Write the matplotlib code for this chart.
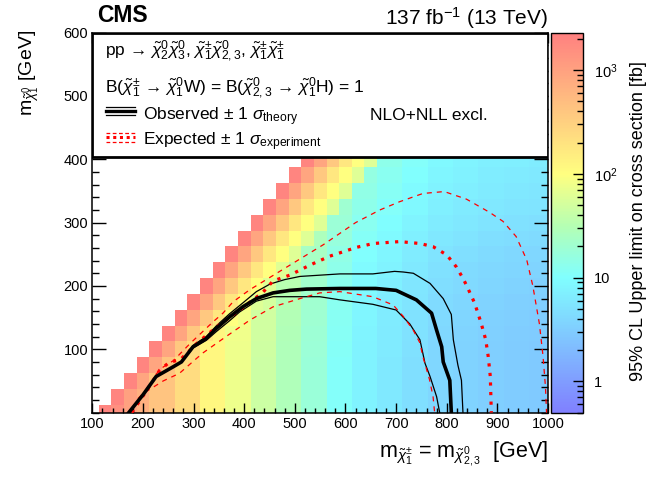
import numpy as np
import matplotlib
matplotlib.use('Agg')
import matplotlib.pyplot as plt
import matplotlib.patches as patches
from matplotlib.colors import LinearSegmentedColormap, LogNorm
from matplotlib.ticker import MultipleLocator, FixedLocator, LogLocator, NullFormatter

plt.rcParams['font.family'] = ['Liberation Sans', 'DejaVu Sans']
plt.rcParams['mathtext.fontset'] = 'custom'
plt.rcParams['mathtext.rm'] = 'Liberation Sans'
plt.rcParams['mathtext.it'] = 'Liberation Sans:italic'
plt.rcParams['mathtext.bf'] = 'Liberation Sans:bold'

# =========================
# Data
# =========================
# bin centres (GeV)
m_chargino = np.arange(125, 1001, 25)
m_lsp = np.arange(0, 401, 25)

# upper limit (fb) in the lowest LSP row, per chargino bin
limit_row0 = [2000, 1500, 1000, 700, 420, 420, 230, 230, 120, 120, 75, 75,
              45, 45, 28, 28, 18, 18, 11, 11, 7.5, 7.5, 6.0, 6.0,
              4.8, 4.8, 3.9, 3.9, 3.5, 3.5, 3.2, 3.2, 3.0, 3.0, 2.9, 2.9]
# growth of the limit with LSP mass (rows 0..400)
row_scale = [1.0, 1.0, 1.0, 1.0, 1.02, 1.05, 1.08, 1.12, 1.18, 1.25,
             1.35, 1.5, 1.65, 1.8, 1.95, 2.1, 2.25]
# limit floor for the bins closest to the diagonal
diag_limit = [2000, 900, 380, 180, 100, 60]

# contours
obs_x = [172, 200, 226, 259, 276, 299, 325, 345, 371, 397, 424, 457, 490, 523, 589, 660, 700, 740, 770, 780, 790, 793, 806, 809]
obs_y = [0, 28, 57, 72, 80, 104, 117, 133, 151, 167, 180, 189, 193, 195, 196, 196, 193, 178, 157, 130, 104, 80, 51, 0]

obs_up_x = [172, 200, 226, 259, 276, 299, 325, 345, 371, 397, 424, 451, 480, 510, 589, 654, 697, 714, 734, 767, 793, 809, 813, 822, 829, 832]
obs_up_y = [0, 28, 57, 72, 80, 106, 120, 137, 156, 173, 191, 203, 210, 215, 219, 219, 223, 222, 220, 204, 180, 155, 115, 75, 51, 0]

obs_dn_x = [172, 200, 226, 259, 276, 299, 325, 345, 371, 391, 424, 457, 549, 589, 654, 700, 727, 747, 757, 767, 780, 786]
obs_dn_y = [0, 28, 57, 72, 80, 102, 114, 128, 145, 159, 176, 183, 183, 178, 171, 162, 140, 115, 78, 57, 25, 0]

exp_x = [178, 205, 233, 253, 273, 306, 345, 391, 437, 457, 490, 530, 569, 622, 655, 707, 747, 773, 800, 819, 832, 839, 855, 868, 877, 882, 886, 888]
exp_y = [0, 32, 67, 80, 83, 109, 135, 162, 190, 208, 217, 233, 247, 261, 267, 270, 267, 262, 249, 230, 212, 201, 173, 141, 115, 88, 57, 0]

exp_up_x = [225, 240, 260, 293, 338, 358, 378, 411, 464, 556, 620, 668, 707, 753, 795, 839, 885, 911, 937, 958, 970, 983, 990, 995, 997]
exp_up_y = [60, 72, 82, 109, 143, 157, 175, 194, 220, 265, 300, 320, 333, 346, 349, 337, 316, 302, 278, 241, 200, 140, 90, 40, 0]

exp_dn_x = [190, 200, 240, 272, 318, 364, 411, 457, 510, 549, 589, 654, 694, 714, 734, 747, 753, 766, 773, 776]
exp_dn_y = [22, 30, 50, 62, 94, 120, 146, 167, 180, 189, 191, 183, 170, 152, 130, 110, 88, 52, 25, 0]

# =========================
# Figure
# =========================
fig = plt.figure(figsize=(6.68, 4.8), dpi=100)
ax = fig.add_axes([0.1382, 0.1404, 0.6822, 0.7917])
cax = fig.add_axes([0.8249, 0.1404, 0.0479, 0.7917])

cmap = LinearSegmentedColormap.from_list(
    'root_pastel',
    [(0.0, '#8080ff'), (0.355, '#80ffff'), (0.49, '#b4ffb4'),
     (0.628, '#ffff80'), (1.0, '#ff8080')])
norm = LogNorm(vmin=0.5, vmax=2300)

Z = np.full((len(m_lsp), len(m_chargino)), np.nan)
for i, y in enumerate(m_lsp):
    for j, x in enumerate(m_chargino):
        k = (x - 125 - y) // 25
        if k < 0:
            continue
        v = limit_row0[j] * row_scale[i]
        if k < len(diag_limit):
            v = max(v, diag_limit[k])
        Z[i, j] = v
Z = np.ma.masked_invalid(Z)

x_edges = np.append(m_chargino - 12.5, m_chargino[-1] + 12.5)
y_edges = np.append(m_lsp - 12.5, m_lsp[-1] + 12.5)
mesh = ax.pcolormesh(x_edges, y_edges, Z, cmap=cmap, norm=norm, zorder=1)

# contours
ax.plot(obs_up_x, obs_up_y, color='black', lw=0.9, zorder=3)
ax.plot(obs_dn_x, obs_dn_y, color='black', lw=0.9, zorder=3)
ax.plot(exp_up_x, exp_up_y, color='red', lw=0.9, ls=(0, (4, 4)), zorder=3)
ax.plot(exp_dn_x, exp_dn_y, color='red', lw=0.9, ls=(0, (4, 4)), zorder=3)
ax.plot(exp_x, exp_y, color='red', lw=2.3, ls=(0, (1.0, 2.0)), zorder=4)
ax.plot(obs_x, obs_y, color='black', lw=2.6, zorder=5)

ax.set_xlim(100, 1000)
ax.set_ylim(0, 600)

ax.xaxis.set_major_locator(MultipleLocator(100))
ax.xaxis.set_minor_locator(MultipleLocator(20))
ax.yaxis.set_major_locator(FixedLocator([100, 200, 300, 400, 500, 600]))
ax.yaxis.set_minor_locator(MultipleLocator(20))
ax.tick_params(axis='both', which='both', direction='in', top=True, right=True,
               labelsize=10.5, width=1.0)
ax.tick_params(axis='x', which='major', length=7, pad=3.2)
ax.tick_params(axis='x', which='minor', length=3.6)
ax.tick_params(axis='y', which='major', length=10, pad=3.0)
ax.tick_params(axis='y', which='minor', length=5)
for s in ax.spines.values():
    s.set_linewidth(1.1)

# =========================
# Legend box
# =========================
box = patches.Rectangle((100, 403), 900, 197, facecolor='white',
                        edgecolor='black', linewidth=2, zorder=10)
ax.add_patch(box)

fs = 12.5
ax.text(125, 564, 'pp \u2192 ' + r'$\tilde{\chi}^{0}_{2}\tilde{\chi}^{0}_{3}$, '
        r'$\tilde{\chi}^{\pm}_{1}\tilde{\chi}^{0}_{2,3}$, $\tilde{\chi}^{\pm}_{1}\tilde{\chi}^{\pm}_{1}$',
        fontsize=fs, va='baseline', zorder=11)
ax.text(125, 506, r'B($\tilde{\chi}^{\pm}_{1}$' + ' \u2192 ' + r'$\tilde{\chi}^{0}_{1}$W) = '
        r'B($\tilde{\chi}^{0}_{2,3}$' + ' \u2192 ' + r'$\tilde{\chi}^{0}_{1}$H) = 1',
        fontsize=fs, va='baseline', zorder=11)

ax.plot([127, 184], [482, 482], color='black', lw=0.9, zorder=11)
ax.plot([127, 184], [476, 476], color='black', lw=2.4, zorder=11)
ax.plot([127, 184], [470, 470], color='black', lw=0.9, zorder=11)
ax.text(200, 462, r'Observed $\pm$ 1 $\sigma_{\mathrm{theory}}$', fontsize=fs,
        va='baseline', zorder=11)
ax.text(648, 462, 'NLO+NLL excl.', fontsize=fs, va='baseline', zorder=11)

ax.plot([127, 184], [442, 442], color='red', lw=0.9, ls=(0, (3, 2)), zorder=11)
ax.plot([127, 184], [435.5, 435.5], color='red', lw=2.2, ls=(0, (1.0, 1.2)), zorder=11)
ax.plot([127, 184], [428, 428], color='red', lw=0.9, ls=(0, (3, 2)), zorder=11)
ax.text(200, 422.5, r'Expected $\pm$ 1 $\sigma_{\mathrm{experiment}}$', fontsize=fs,
        va='baseline', zorder=11)

# =========================
# Colour bar
# =========================
cb = fig.colorbar(mesh, cax=cax)
cb.outline.set_linewidth(1.0)
cax.yaxis.set_major_locator(FixedLocator([1, 10, 100, 1000]))
cax.set_yticklabels(['1', '10', r'10$^{2}$', r'10$^{3}$'])
cax.yaxis.set_minor_locator(LogLocator(base=10, subs=np.arange(2, 10)))
cax.yaxis.set_minor_formatter(NullFormatter())
cax.tick_params(which='both', direction='in', right=True, left=False,
                labelsize=10.5, width=1.0)
cax.tick_params(which='major', length=7, pad=8)
cax.tick_params(which='minor', length=4)

# =========================
# Labels
# =========================
fig.text(0.145, 0.954, 'CMS', fontsize=16.5, fontweight='bold', va='baseline')
fig.text(0.8204, 0.948, r'137 fb$^{-1}$ (13 TeV)', fontsize=15, ha='right',
         va='baseline')
fig.text(0.8204, 0.046, r'm$_{\tilde{\chi}^{\pm}_{1}}$ = m$_{\tilde{\chi}^{0}_{2,3}}$  [GeV]',
         fontsize=15.5, ha='right', va='baseline')
fig.text(0.0494, 0.9375, r'm$_{\tilde{\chi}^{0}_{1}}$ [GeV]', fontsize=14,
         rotation=90, rotation_mode='anchor', ha='right', va='baseline')
fig.text(0.9626, 0.540, '95% CL Upper limit on cross section [fb]', fontsize=13,
         rotation=90, rotation_mode='anchor', ha='center', va='baseline')

fig.savefig('out.png', dpi=100)
